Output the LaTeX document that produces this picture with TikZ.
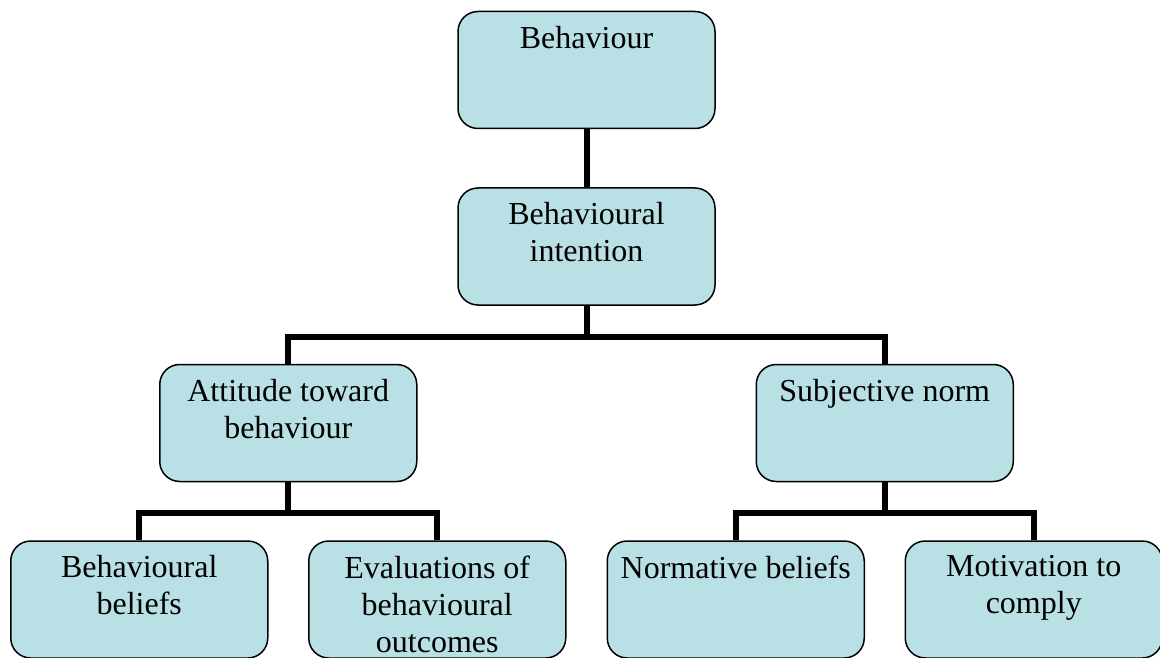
\documentclass[tikz,border=0pt]{standalone}
\usepackage{fontspec}
\setmainfont{Liberation Serif}
\usepackage{tikz}
\usetikzlibrary{trees}

\definecolor{boxblue}{RGB}{185,224,228}
\newcommand{\boxlines}[1]{\parbox[t][88pt][t]{250pt}{\centering #1}}

\begin{document}
\begin{tikzpicture}[x=1pt,y=-1pt,
  box/.style={draw,line width=1.5pt,rounded corners=20pt,fill=boxblue,
    minimum width=257pt,minimum height=117pt,inner sep=0pt,
    font=\fontsize{32}{37}\selectfont},
  edge from parent/.style={draw,line width=6pt},
  edge from parent path={(\tikzparentnode.south) -- ++(0,31) -| (\tikzchildnode.north)},
  level distance=176.5pt,
  level 2/.style={sibling distance=596.5pt},
  level 3/.style={sibling distance=298pt}]
\useasboundingbox (0,0) rectangle (1160,658);
\node [box] (beh) at (586.5,70) {\boxlines{Behaviour}}
	child {node [box] (intent) {\boxlines{Behavioural\\intention}}
		child {node [box] (att) {\boxlines{Attitude toward\\behaviour}}
			child {node [box] (bbel) {\boxlines{Behavioural\\beliefs}}}
			child {node [box] (eval) {\boxlines{Evaluations of\\behavioural\\outcomes}}}
		}
		child {node [box] (subj) {\boxlines{Subjective norm}}
			child {node [box] (nbel) {\boxlines{Normative beliefs}}}
			child {node [box] (motiv) {\boxlines{Motivation to\\comply}}}
		}
}
;
\end{tikzpicture}
\end{document}
